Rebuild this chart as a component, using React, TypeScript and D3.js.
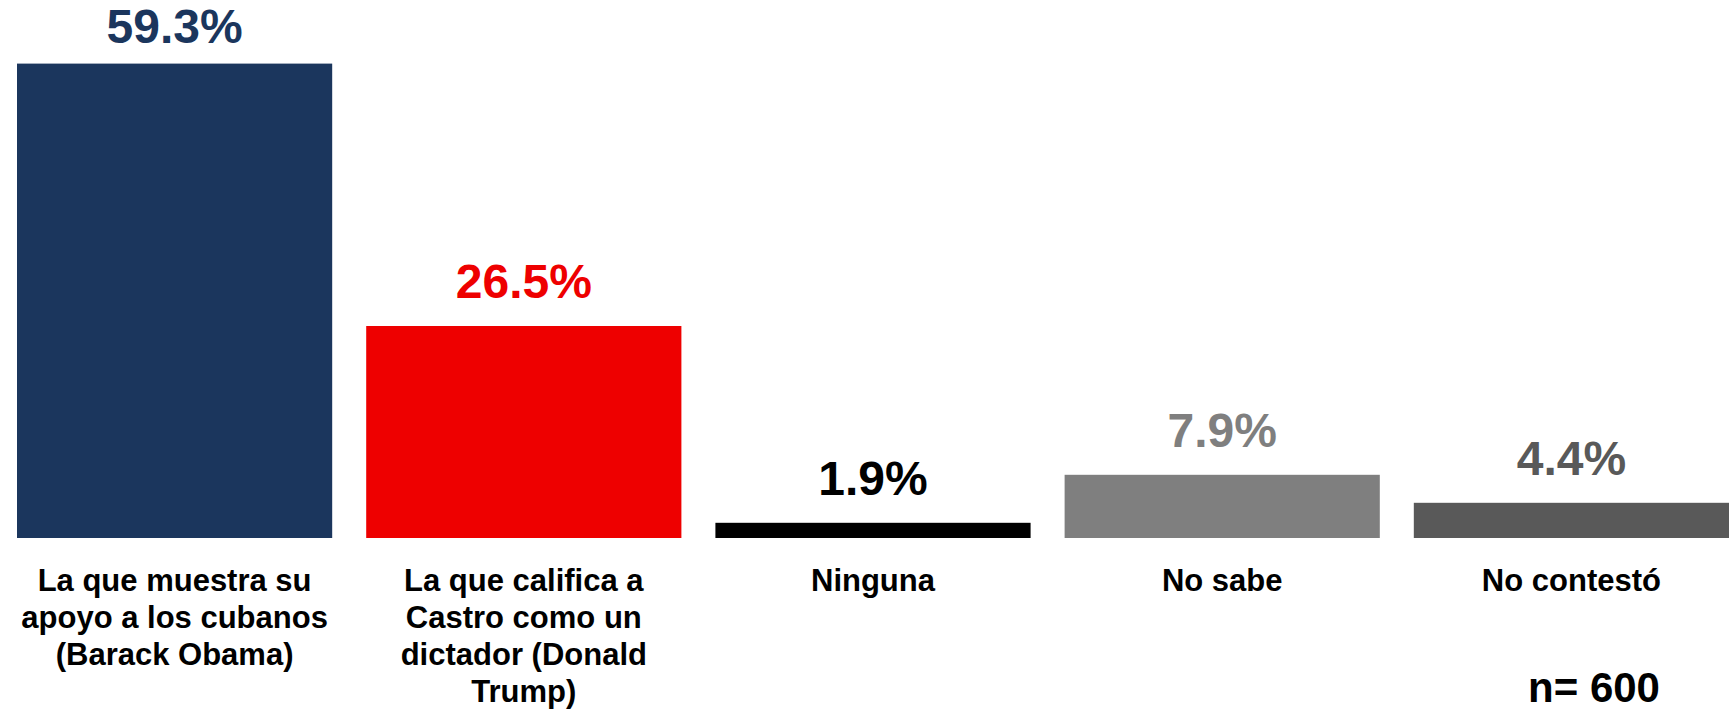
import React from 'react';
import * as d3 from 'd3';

const categories = ['obama', 'trump', 'ninguna', 'nosabe', 'nocontesto'];
const categoryLines = [
  ['La que muestra su', 'apoyo a los cubanos', '(Barack Obama)'],
  ['La que califica a', 'Castro como un', 'dictador (Donald', 'Trump)'],
  ['Ninguna'],
  ['No sabe'],
  ['No contestó'],
];
const values = [59.3, 26.5, 1.9, 7.9, 4.4];
const barColors = ['#1B365D', '#EE0000', '#000000', '#7F7F7F', '#595959'];
const sampleNote = 'n= 600';

const W = 1729;
const H = 715;
const FONT = '"Liberation Sans", Arial, sans-serif';

export default function App() {
  const x = d3.scaleBand<string>()
    .domain(categories)
    .range([17, 1729])
    .paddingInner(0.0974)
    .paddingOuter(0);

  const y = d3.scaleLinear().domain([0, 60]).range([538, 58]);
  const fmt = (v: number) => `${v.toFixed(1)}%`;

  return (
    <div style={{ position: 'absolute', left: 0, top: 0 }}>
      <svg width={W} height={H} viewBox={`0 0 ${W} ${H}`} style={{ display: 'block', background: '#fff' }}>
        {/* bars */}
        {categories.map((c, i) => (
          <rect
            key={c}
            x={x(c)}
            y={y(values[i])}
            width={x.bandwidth()}
            height={y(0) - y(values[i])}
            fill={barColors[i]}
          />
        ))}

        {/* value labels */}
        {categories.map((c, i) => (
          <text
            key={c}
            x={(x(c) ?? 0) + x.bandwidth() / 2}
            y={Math.max(y(values[i]) - 28, 43)}
            textAnchor="middle"
            fontFamily={FONT}
            fontWeight="bold"
            fontSize={48}
            fill={barColors[i]}
          >
            {fmt(values[i])}
          </text>
        ))}

        {/* category labels */}
        {categories.map((c, i) => (
          <text
            key={c}
            x={(x(c) ?? 0) + x.bandwidth() / 2}
            y={y(0) + 53}
            textAnchor="middle"
            fontFamily={FONT}
            fontWeight="bold"
            fontSize={31}
            fill="#000"
          >
            {categoryLines[i].map((line, j) => (
              <tspan key={j} x={(x(c) ?? 0) + x.bandwidth() / 2} dy={j === 0 ? 0 : 37}>
                {line}
              </tspan>
            ))}
          </text>
        ))}

        <text
          x={1594}
          y={702}
          textAnchor="middle"
          fontFamily={FONT}
          fontWeight="bold"
          fontSize={42}
          fill="#000"
        >
          {sampleNote}
        </text>
      </svg>
    </div>
  );
}
